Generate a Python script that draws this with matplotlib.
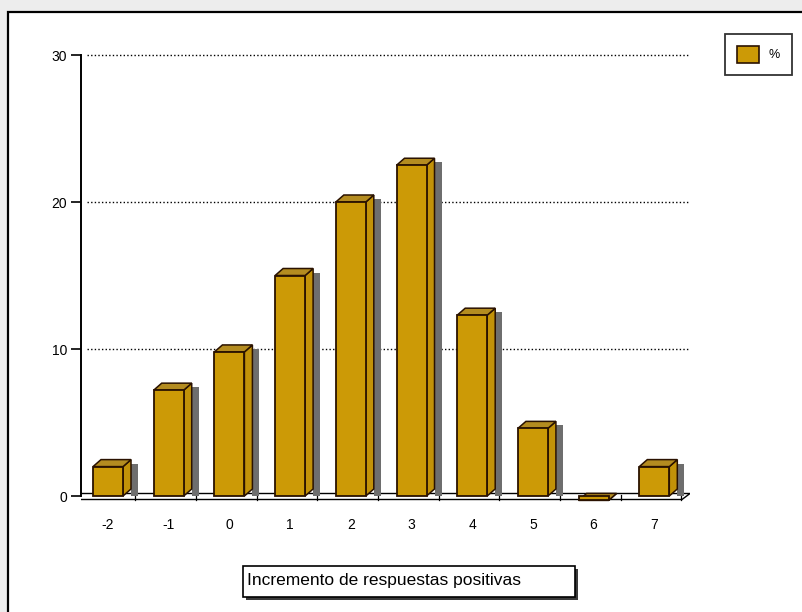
import numpy as np
import matplotlib
matplotlib.use('Agg')
import matplotlib.pyplot as plt
from matplotlib.patches import Polygon, Rectangle, Patch

# Distribution of the increase in positive answers (percent of cases)
categories = [-2, -1, 0, 1, 2, 3, 4, 5, 6, 7]
percent = [2.0, 7.2, 9.8, 15.0, 20.0, 22.5, 12.3, 4.6, -0.3, 2.0]
y_ticks = [0, 10, 20, 30]
x_title = 'Incremento de respuestas positivas'
series_name = '%'

FRONT = '#CC9A06'
SIDE = '#C29208'
TOP = '#B48C20'
EDGE = '#2A1200'
SHADOW = '#6E6E6E'

plt.rcParams['font.family'] = ['Liberation Sans', 'DejaVu Sans']

W, H = 802, 612
fig = plt.figure(figsize=(W / 100, H / 100), dpi=100)
fig.patch.set_facecolor('#ededed')


def px_box(x, y, w, h):
    # pixel box measured from the top-left corner -> figure fraction
    return (x / W, 1 - (y + h) / H, w / W, h / H)


# outer frame of the chart object
fx, fy, fw, fh = px_box(8, 12, 820, 640)
fig.patches.append(Rectangle((fx, fy), fw, fh, transform=fig.transFigure,
                             facecolor='white', edgecolor='black', lw=1.6, zorder=-5))

# plot area: zero at y=496 px, 30 at y=55 px, spine at x=81 px
xmin, xmax = -2.445, 7.588
ymin, ymax = -1.0, 30.5
ax = fig.add_axes(px_box(81, 47.65, 609, 463.05))
ax.set_xlim(xmin, xmax)
ax.set_ylim(ymin, ymax)
ax.patch.set_alpha(0)

px_x = 609 / (xmax - xmin)
px_y = 463.05 / (ymax - ymin)
ddx, ddy = 8 / px_x, 7 / px_y
width = 30 / px_x

for s in ['top', 'right', 'bottom']:
    ax.spines[s].set_visible(False)
ax.spines['left'].set_bounds(0, 30)
ax.spines['left'].set_linewidth(1.4)

ax.set_yticks(y_ticks)
ax.tick_params(axis='y', direction='out', length=7, width=1.2, pad=3, labelsize=10)
ax.set_xticks(categories)
ax.set_xticklabels([str(c) for c in categories])
ax.tick_params(axis='x', length=0, pad=5, labelsize=10)

# dotted gridlines on the back wall
for v in y_ticks[1:]:
    ax.plot([xmin + ddx * 0.8, xmax], [v, v], color='black', lw=1.0,
            linestyle=(0, (1, 1.6)), zorder=1)

# floor slab
y_front = -3.5 / px_y
y_back = 2.5 / px_y
floor = Polygon([(xmin - ddx, y_front), (xmax - ddx, y_front),
                 (xmax, y_back), (xmin, y_back)],
                closed=True, facecolor='white', edgecolor='black', lw=1.0, zorder=2)
ax.add_patch(floor)
for b in np.arange(-2.5, 8.0, 1.0):
    bx = b - ddx * 0.4
    ax.plot([bx, bx], [y_front, y_back - 1 / px_y], color='black', lw=0.9, zorder=2)

# 3D-looking columns: shadow, side face, top face, front face
for x, v in zip(categories, percent):
    x0, x1 = x - width / 2, x + width / 2
    base = min(v, 0)
    if v > 0:
        shadow = Polygon([(x1 + ddx, 0), (x1 + ddx + 7 / px_x, 0),
                          (x1 + ddx + 7 / px_x, v + ddy - 4 / px_y),
                          (x1 + ddx, v + ddy - 4 / px_y)],
                         closed=True, facecolor=SHADOW, edgecolor='none', zorder=3)
        ax.add_patch(shadow)
    side = Polygon([(x1, base), (x1 + ddx, base + ddy), (x1 + ddx, v + ddy), (x1, v)],
                   closed=True, facecolor=SIDE, edgecolor=EDGE, lw=1.1, zorder=4)
    top = Polygon([(x0, v), (x1, v), (x1 + ddx, v + ddy), (x0 + ddx, v + ddy)],
                  closed=True, facecolor=TOP, edgecolor=EDGE, lw=1.1, zorder=4)
    ax.add_patch(side)
    ax.add_patch(top)
    ax.bar(x, v, width=width, bottom=0, color=FRONT, edgecolor=EDGE,
           linewidth=1.3, zorder=5)

# legend box at the top right
leg = ax.legend(handles=[Patch(facecolor=FRONT, edgecolor=EDGE, lw=1.2, label=series_name)],
                loc='upper left', bbox_to_anchor=(725 / W, 1 - 34 / H),
                bbox_transform=fig.transFigure, fontsize=9, frameon=True,
                fancybox=False, handlelength=1.75, handleheight=1.7,
                borderpad=0.95, handletextpad=0.8, borderaxespad=0)
leg.get_frame().set_edgecolor('black')
leg.get_frame().set_linewidth(1.3)

# category axis title in its own box with a drop shadow
sx, sy, sw, sh = px_box(246, 569, 332, 31)
fig.patches.append(Rectangle((sx, sy), sw, sh, transform=fig.transFigure,
                             facecolor='#3a3a3a', edgecolor='none', zorder=1))
bx, by, bw, bh = px_box(243, 566, 332, 31)
fig.patches.append(Rectangle((bx, by), bw, bh, transform=fig.transFigure,
                             facecolor='white', edgecolor='black', lw=1.2, zorder=2))
fig.text(247 / W, 1 - 581 / H, x_title, ha='left', va='center', fontsize=12.5, zorder=3)

fig.savefig('out.png', dpi=100, facecolor=fig.get_facecolor())
